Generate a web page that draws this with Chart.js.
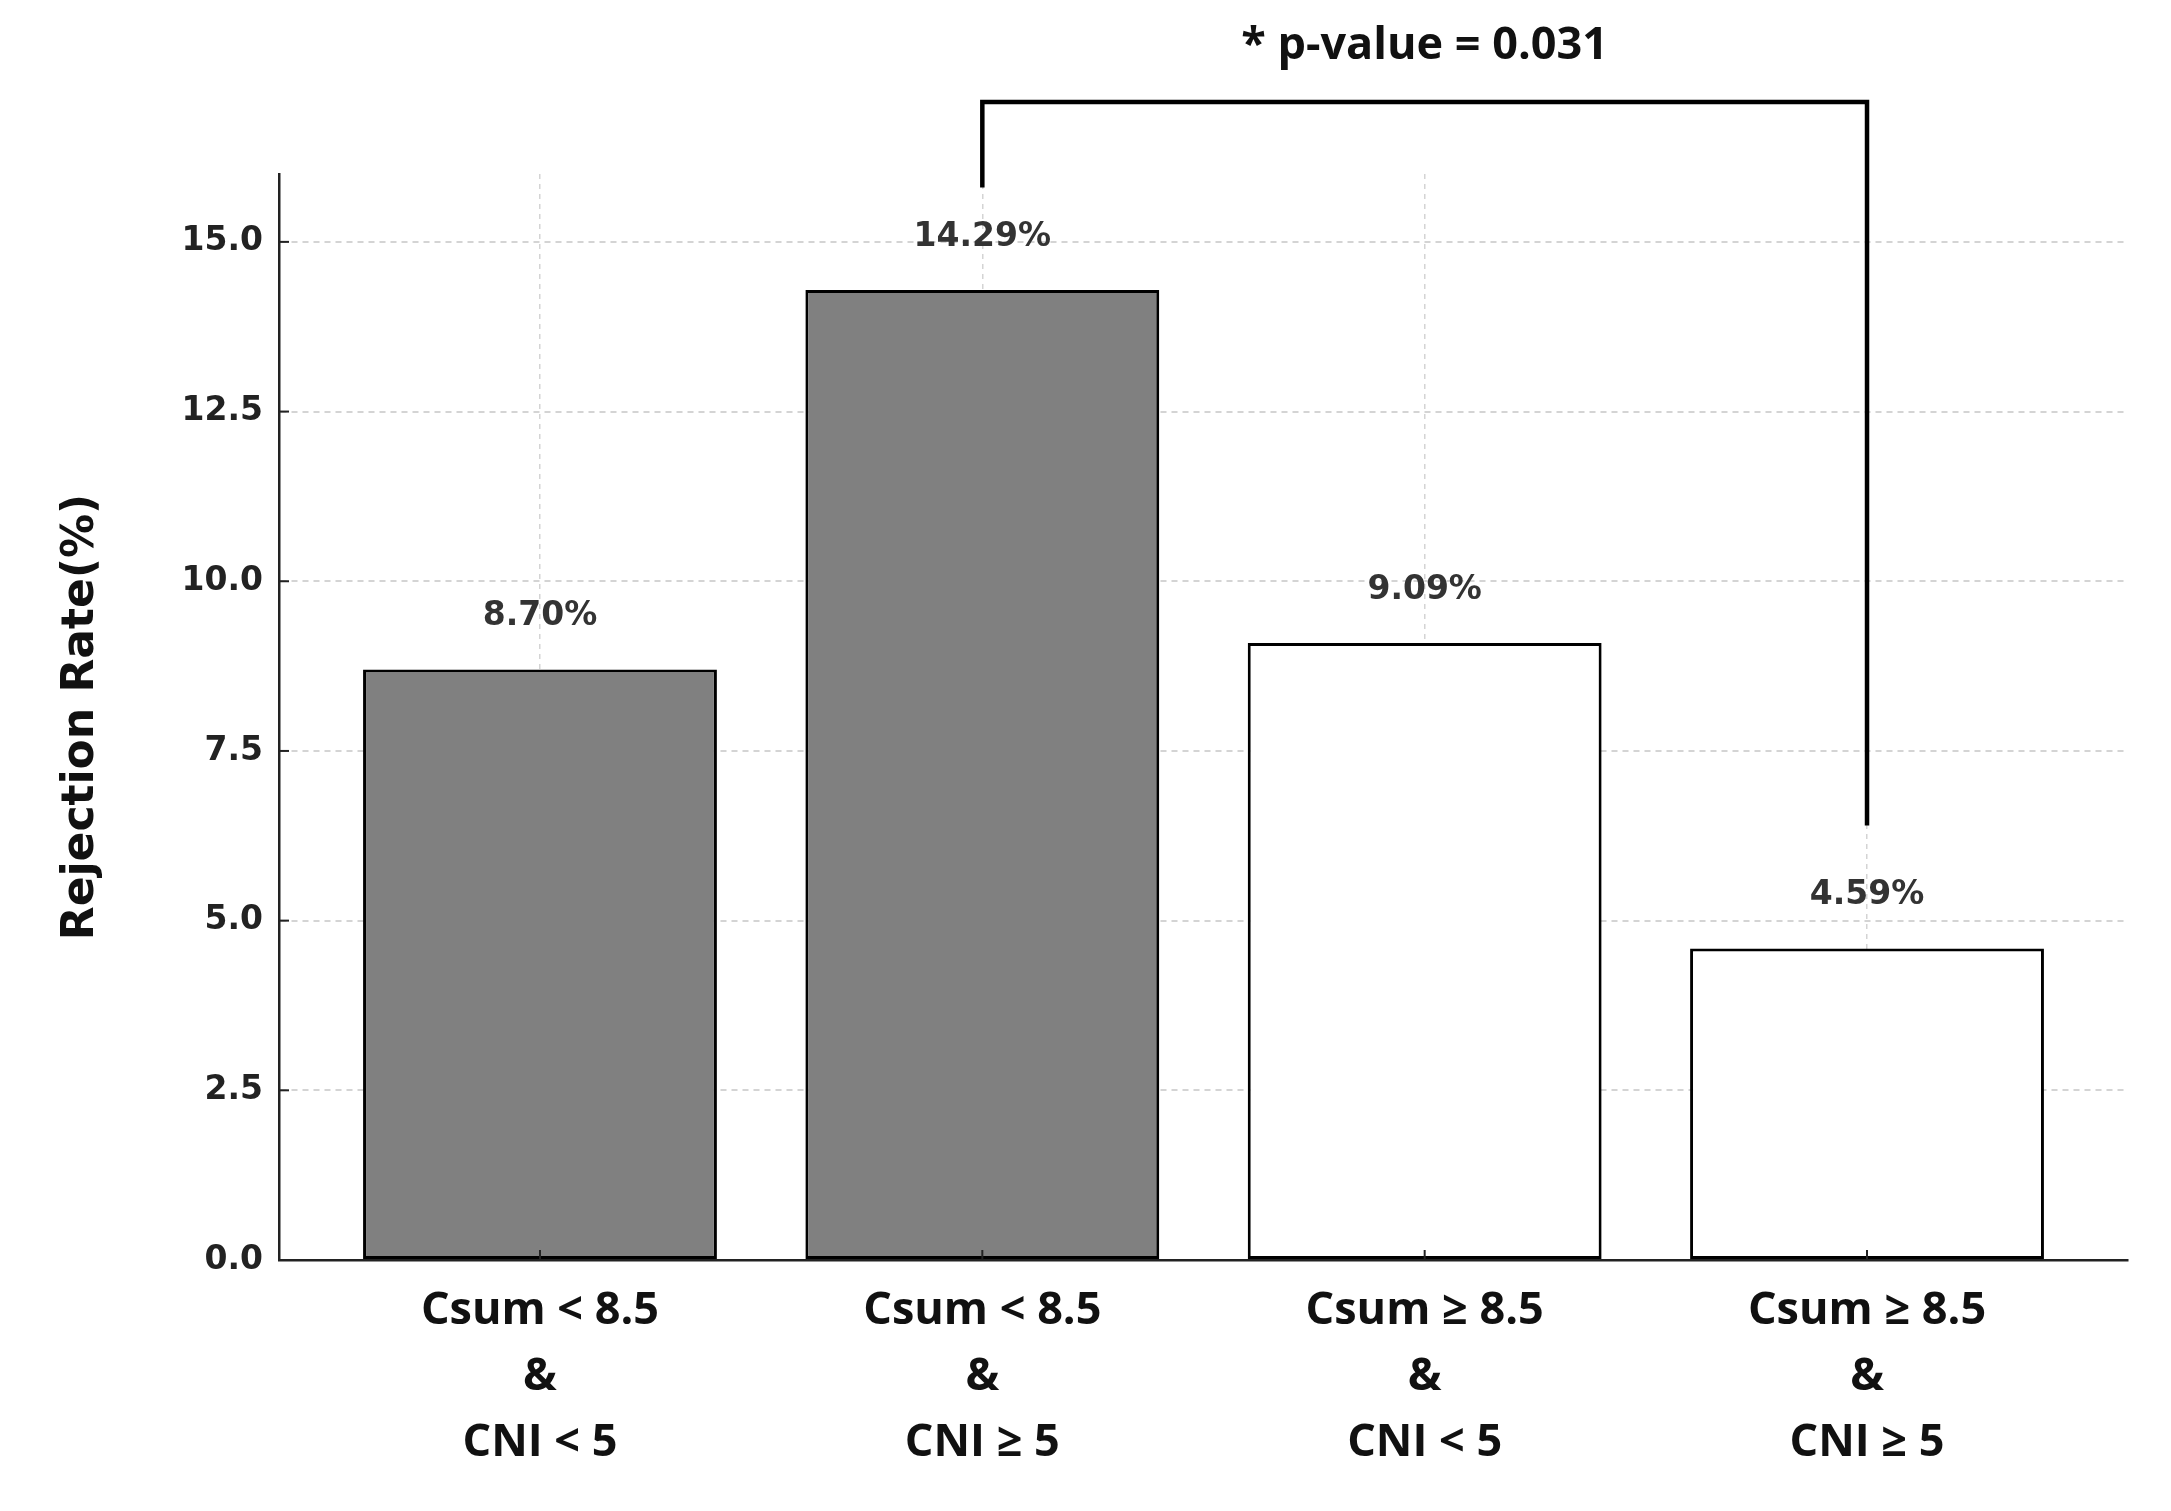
<!DOCTYPE html>
<html>
<head>
<meta charset="utf-8">
<script src="https://cdn.jsdelivr.net/npm/chart.js@4/dist/chart.umd.min.js"></script>
<style>
  html, body { margin: 0; padding: 0; background: #ffffff; }
  #wrap { width: 2171px; height: 1511px; }
</style>
</head>
<body>
<div id="wrap"><canvas id="c" width="2171" height="1511"></canvas></div>
<script>
// ---- data ----
const categories = [
  ["Csum < 8.5", "&", "CNI < 5"],
  ["Csum < 8.5", "&", "CNI \u2265 5"],
  ["Csum \u2265 8.5", "&", "CNI < 5"],
  ["Csum \u2265 8.5", "&", "CNI \u2265 5"]
];
const rejectionRates = [8.70, 14.29, 9.09, 4.59];
const valueLabels = ["8.70%", "14.29%", "9.09%", "4.59%"];
const barFills = ["#808080", "#808080", "#ffffff", "#ffffff"];
const yTickValues = [0, 2.5, 5, 7.5, 10, 12.5, 15];
const pValueText = "* p-value = 0.031";
const compareFrom = 1;
const compareTo = 3;

const points = rejectionRates.map((v, i) => ({ x: i, y: v }));

// ---- plugins ----
const bgPlugin = {
  id: 'bg',
  beforeDraw(chart) {
    const ctx = chart.ctx;
    ctx.save();
    ctx.fillStyle = '#ffffff';
    ctx.fillRect(0, 0, chart.width, chart.height);
    ctx.restore();
  }
};

const annotPlugin = {
  id: 'annot',
  afterDraw(chart, args, opts) {
    const ctx = chart.ctx;
    const xs = chart.scales.x, ys = chart.scales.y;
    const area = chart.chartArea;
    ctx.save();
    // inward tick marks
    ctx.strokeStyle = '#222';
    ctx.lineWidth = 2;
    yTickValues.forEach(v => {
      const y = ys.getPixelForValue(v);
      ctx.beginPath(); ctx.moveTo(area.left, y); ctx.lineTo(area.left + 10, y); ctx.stroke();
    });
    categories.forEach((c, i) => {
      const x = xs.getPixelForValue(i);
      ctx.beginPath(); ctx.moveTo(x, area.bottom); ctx.lineTo(x, area.bottom - 10); ctx.stroke();
    });
    // value labels
    const meta = chart.getDatasetMeta(0);
    ctx.fillStyle = '#333333';
    ctx.font = 'bold 33px "DejaVu Sans"';
    ctx.textAlign = 'center';
    ctx.textBaseline = 'middle';
    meta.data.forEach((bar, i) => {
      ctx.fillText(valueLabels[i], bar.x, bar.y - 53);
    });
    // significance bracket
    const x1 = xs.getPixelForValue(compareFrom);
    const x2 = xs.getPixelForValue(compareTo);
    const yTop = ys.getPixelForValue(opts.bracketY);
    const yL = ys.getPixelForValue(opts.leftEnd);
    const yR = ys.getPixelForValue(opts.rightEnd);
    ctx.strokeStyle = '#000000';
    ctx.lineWidth = 4.5;
    ctx.lineCap = 'butt';
    ctx.lineJoin = 'miter';
    ctx.beginPath();
    ctx.moveTo(x1, yL); ctx.lineTo(x1, yTop); ctx.lineTo(x2, yTop); ctx.lineTo(x2, yR);
    ctx.stroke();
    ctx.fillStyle = '#111111';
    ctx.font = 'bold 45px "Open Sans"';
    ctx.fillText(pValueText, (x1 + x2) / 2, ys.getPixelForValue(opts.textY));
    ctx.restore();
  }
};

// ---- chart ----
new Chart(document.getElementById('c'), {
  type: 'bar',
  data: {
    datasets: [{
      data: points,
      backgroundColor: barFills,
      borderColor: '#000000',
      borderWidth: 3,
      borderSkipped: false,
      barPercentage: 0.8,
      categoryPercentage: 1.0
    }]
  },
  options: {
    responsive: false,
    animation: false,
    devicePixelRatio: 1,
    layout: { padding: { top: 174, right: 43, left: 0, bottom: 0 } },
    plugins: {
      legend: { display: false },
      tooltip: { enabled: false },
      annot: { bracketY: 17.06, leftEnd: 15.8, rightEnd: 6.4, textY: 17.88 }
    },
    scales: {
      x: {
        type: 'linear',
        min: -0.59,
        max: 3.59,
        offset: false,
        z: 1,
        afterBuildTicks(scale) { scale.ticks = categories.map((c, i) => ({ value: i })); },
        afterFit(scale) { scale.height = 251; },
        grid: { color: 'rgba(205,205,205,0.85)', lineWidth: 1.5, drawTicks: false, offset: false },
        border: { display: true, color: '#222222', width: 2.5, dash: [5, 5] },
        ticks: {
          padding: 18,
          color: '#111111',
          font: { family: '"Open Sans"', weight: 'bold', size: 45, lineHeight: 1.47 },
          maxRotation: 0,
          autoSkip: false,
          callback(v) { return categories[Math.round(v)]; }
        }
      },
      y: {
        min: 0,
        max: 16,
        z: 1,
        afterBuildTicks(scale) { scale.ticks = yTickValues.map(v => ({ value: v })); },
        afterFit(scale) { scale.width = 279; },
        grid: { color: 'rgba(205,205,205,0.85)', lineWidth: 2, drawTicks: false },
        border: { display: true, color: '#222222', width: 2.5, dash: [6, 5] },
        ticks: {
          padding: 16,
          color: '#222222',
          font: { family: '"DejaVu Sans"', weight: 'bold', size: 33 },
          callback(v) { return Number(v).toFixed(1); }
        },
        title: {
          display: true,
          text: 'Rejection Rate(%)',
          color: '#111111',
          font: { family: '"DejaVu Sans"', weight: 'bold', size: 44 },
          padding: { top: 55, bottom: 0 }
        }
      }
    }
  },
  plugins: [bgPlugin, annotPlugin]
});
</script>
</body>
</html>
